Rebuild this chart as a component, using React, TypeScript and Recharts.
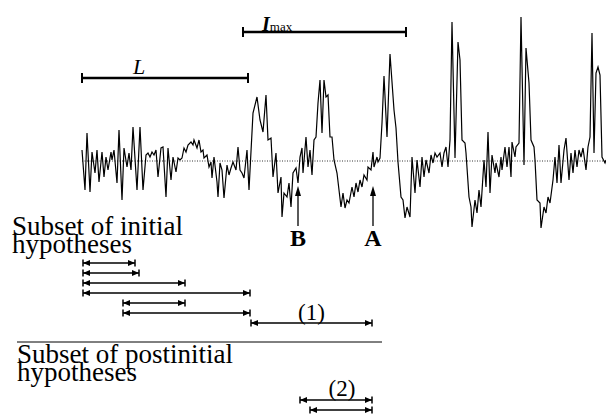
import { ComposedChart, Line, XAxis, YAxis, ReferenceLine, ReferenceDot } from "recharts";

// signal samples: [time, amplitude]
const signalSamples: Array<[number, number]> = [
  [0, 11], [3, -29], [5, 28], [8, -31], [10, 9], [13, -12], [15, 11], [17, -21], [20, 9], [22, -16],
  [24, 4], [26, -9], [29, 9], [30, 1], [32, 11], [35, -22], [37, 31], [40, -39], [42, 13], [45, -6],
  [47, 8], [49, -9], [51, 34], [55, -29], [58, 34], [61, -29], [64, 6], [66, 8], [68, 4], [70, 9],
  [72, 6], [74, 11], [76, -16], [79, 13], [81, 14], [84, -36], [86, 13], [89, -19], [91, 4], [94, -11],
  [96, 3], [98, 1], [100, 3], [102, 13], [104, 9], [106, 16], [109, 19], [111, 16], [112, 21], [115, 13],
  [117, 21], [119, 9], [121, 11], [122, 3], [125, 6], [127, -6], [129, -1], [130, -17], [132, 4], [135, -21],
  [136, -36], [138, -2], [140, -9], [142, -37], [145, -4], [147, -14], [149, -7], [151, -1], [154, -9], [156, 14],
  [158, -9], [160, -12], [162, -17], [165, 11], [167, -29], [171, 48], [175, 64], [178, 41], [181, 29], [184, 66],
  [186, 21], [189, 23], [191, -16], [194, 8], [196, -32], [199, -16], [200, -56], [202, -32], [205, -36], [207, -22],
  [209, -46], [211, -12], [214, -7], [216, -22], [218, 4], [220, 13], [221, -12], [224, 24], [226, -6], [228, 11],
  [230, -14], [232, 21], [234, 24], [236, 58], [238, 81], [240, 28], [242, 81], [244, 64], [246, 66], [248, 24],
  [250, 24], [252, 1], [255, -12], [257, -29], [259, -46], [261, -32], [263, -47], [265, -39], [267, -42], [270, -26],
  [272, -36], [274, -22], [276, -31], [278, -19], [280, -26], [282, -14], [285, -19], [286, -6], [289, -9], [291, 9],
  [292, -6], [295, 4], [296, -1], [298, 3], [300, 38], [302, 85], [305, 24], [308, 107], [312, 51], [314, 33],
  [316, -1], [319, -36], [321, -39], [323, -57], [325, -46], [328, -56], [330, 4], [333, -32], [335, 1], [338, -26],
  [340, 4], [342, -16], [344, 1], [347, -12], [349, 6], [351, -2], [353, 8], [355, 4], [358, 8], [360, -6],
  [362, 8], [364, 14], [366, -6], [368, 21], [370, 139], [373, 3], [376, 119], [378, 101], [380, 21], [383, 18],
  [384, 8], [387, -36], [389, -46], [390, -66], [393, -39], [395, -52], [397, -29], [399, -46], [402, 1], [404, -26],
  [406, 29], [408, -32], [410, 6], [413, -12], [414, -2], [417, -16], [419, 4], [420, -9], [423, 14], [425, -6],
  [427, 14], [429, -16], [430, 19], [433, 4], [434, 14], [437, 18], [439, 144], [442, -4], [444, 113], [447, 78],
  [449, 21], [452, 14], [453, 1], [455, -39], [458, -42], [459, -67], [462, -46], [464, -52], [466, -36], [468, -42],
  [471, -19], [473, 4], [475, -22], [477, 16], [479, -22], [482, 11], [484, 23], [487, -19], [489, 8], [491, -12],
  [493, 11], [495, -6], [497, 11], [499, 4], [501, 13], [504, -9], [506, 14], [508, 24], [510, 128], [512, 8],
  [514, 88], [516, 94], [518, 86], [520, 4], [523, -2], [524, 1],
];

const windowL: [number, number] = [0, 166];
const windowImax: [number, number] = [161, 324];

const initialHypotheses: Array<[number, number]> = [
  [1, 53], [1, 57], [1, 103], [1, 168], [41, 103], [41, 168], [169, 290],
];
const postinitialHypotheses: Array<[number, number]> = [[218, 290], [228, 290]];
const hypothesisTags = ["(1)", "(2)"];

const markers = [
  { name: "B", t: 216 },
  { name: "A", t: 291 },
];

const data = signalSamples.map(([t, v]) => ({ t, v }));

const FONT = "'Liberation Serif', 'Times New Roman', serif";

const ArrowSpan = (p: any) => {
  const x1 = Math.min(p.x1, p.x2);
  const x2 = Math.max(p.x1, p.x2);
  const y = p.y1;
  return (
    <g>
      <line x1={x1} x2={x2} y1={y} y2={y} stroke="#000" strokeWidth={1.5} />
      <line x1={x1} x2={x1} y1={y - 3.5} y2={y + 3.5} stroke="#000" strokeWidth={1.5} />
      <line x1={x2} x2={x2} y1={y - 3.5} y2={y + 3.5} stroke="#000" strokeWidth={1.5} />
      <polygon points={`${x1},${y} ${x1 + 7},${y - 3} ${x1 + 7},${y + 3}`} fill="#000" />
      <polygon points={`${x2},${y} ${x2 - 7},${y - 3} ${x2 - 7},${y + 3}`} fill="#000" />
    </g>
  );
};

const ScaleBar = (p: any) => {
  const y = p.y1;
  return (
    <g>
      <line x1={p.x1} x2={p.x2} y1={y} y2={y} stroke="#000" strokeWidth={2.5} />
      <line x1={p.x1} x2={p.x1} y1={y - 5} y2={y + 5} stroke="#000" strokeWidth={2} />
      <line x1={p.x2} x2={p.x2} y1={y - 5} y2={y + 5} stroke="#000" strokeWidth={2} />
    </g>
  );
};

const UpArrow = (p: any) => {
  const top = Math.min(p.y1, p.y2);
  const bottom = Math.max(p.y1, p.y2);
  const x = p.x1;
  return (
    <g>
      <line x1={x} x2={x} y1={top + 6} y2={bottom} stroke="#000" strokeWidth={1.3} />
      <polygon points={`${x},${top} ${x - 3},${top + 10} ${x + 3},${top + 10}`} fill="#000" />
    </g>
  );
};

const label = (content: any, opts: { anchor?: string; size?: number; italic?: boolean; bold?: boolean } = {}) =>
  (p: any) => (
    <text
      x={p.cx}
      y={p.cy}
      textAnchor={opts.anchor ?? "start"}
      fontFamily={FONT}
      fontSize={opts.size ?? 27}
      fontStyle={opts.italic ? "italic" : "normal"}
      fontWeight={opts.bold ? "bold" : "normal"}
      fill="#000"
    >
      {content}
    </text>
  );

export default function App() {
  return (
    <div style={{ position: "fixed", left: 0, top: 0, width: 606, height: 414, background: "#fff" }}>
      <ComposedChart width={606} height={414} data={data} margin={{ top: 0, right: 0, bottom: 0, left: 0 }}>
        <XAxis dataKey="t" type="number" domain={[-82, 524]} hide allowDataOverflow />
        <YAxis type="number" domain={[-253, 161]} hide allowDataOverflow />
        <ReferenceLine
          segment={[{ x: 0, y: 0 }, { x: 524, y: 0 }]}
          stroke="#000"
          strokeWidth={0.8}
          strokeDasharray="1 1.5"
        />
        <Line
          dataKey="v"
          type="linear"
          stroke="#000"
          strokeWidth={1.2}
          dot={false}
          activeDot={false}
          legendType="none"
          isAnimationActive={false}
        />

        <ReferenceLine segment={[{ x: windowL[0], y: 83 }, { x: windowL[1], y: 83 }]} shape={ScaleBar} />
        <ReferenceLine segment={[{ x: windowImax[0], y: 129 }, { x: windowImax[1], y: 129 }]} shape={ScaleBar} />
        <ReferenceDot x={57} y={87} r={0} shape={label("L", { anchor: "middle", size: 22, italic: true })} />
        <ReferenceDot
          x={180}
          y={130}
          r={0}
          shape={label(
            <>
              <tspan fontStyle="italic" fontWeight="bold" fontSize={20}>I</tspan>
              <tspan fontSize={13}>max</tspan>
            </>,
            { size: 20 }
          )}
        />

        {markers.map((m) => (
          <ReferenceLine key={"arr" + m.name} segment={[{ x: m.t, y: -65 }, { x: m.t, y: -25 }]} shape={UpArrow} />
        ))}
        {markers.map((m) => (
          <ReferenceDot
            key={"lab" + m.name}
            x={m.t}
            y={-85}
            r={0}
            shape={label(m.name, { anchor: "middle", size: 24, bold: true })}
          />
        ))}

        <ReferenceDot x={-70} y={-74} r={0} shape={label("Subset of initial")} />
        <ReferenceDot x={-70} y={-92} r={0} shape={label("hypotheses")} />

        {initialHypotheses.map(([s, e], i) => (
          <ReferenceLine
            key={"ih" + i}
            segment={[{ x: s, y: -102 - i * 10 }, { x: e, y: -102 - i * 10 }]}
            shape={ArrowSpan}
          />
        ))}
        <ReferenceDot
          x={(initialHypotheses[6][0] + initialHypotheses[6][1]) / 2}
          y={-159}
          r={0}
          shape={label(hypothesisTags[0], { anchor: "middle", size: 23 })}
        />

        <ReferenceLine segment={[{ x: -65, y: -181 }, { x: 300, y: -181 }]} stroke="#000" strokeWidth={1} />

        <ReferenceDot x={-65} y={-202} r={0} shape={label("Subset of postinitial")} />
        <ReferenceDot x={-65} y={-220} r={0} shape={label("hypotheses")} />

        {postinitialHypotheses.map(([s, e], i) => (
          <ReferenceLine
            key={"ph" + i}
            segment={[{ x: s, y: -239 - i * 10 }, { x: e, y: -239 - i * 10 }]}
            shape={ArrowSpan}
          />
        ))}
        <ReferenceDot x={260} y={-235} r={0} shape={label(hypothesisTags[1], { anchor: "middle", size: 23 })} />
      </ComposedChart>
    </div>
  );
}
